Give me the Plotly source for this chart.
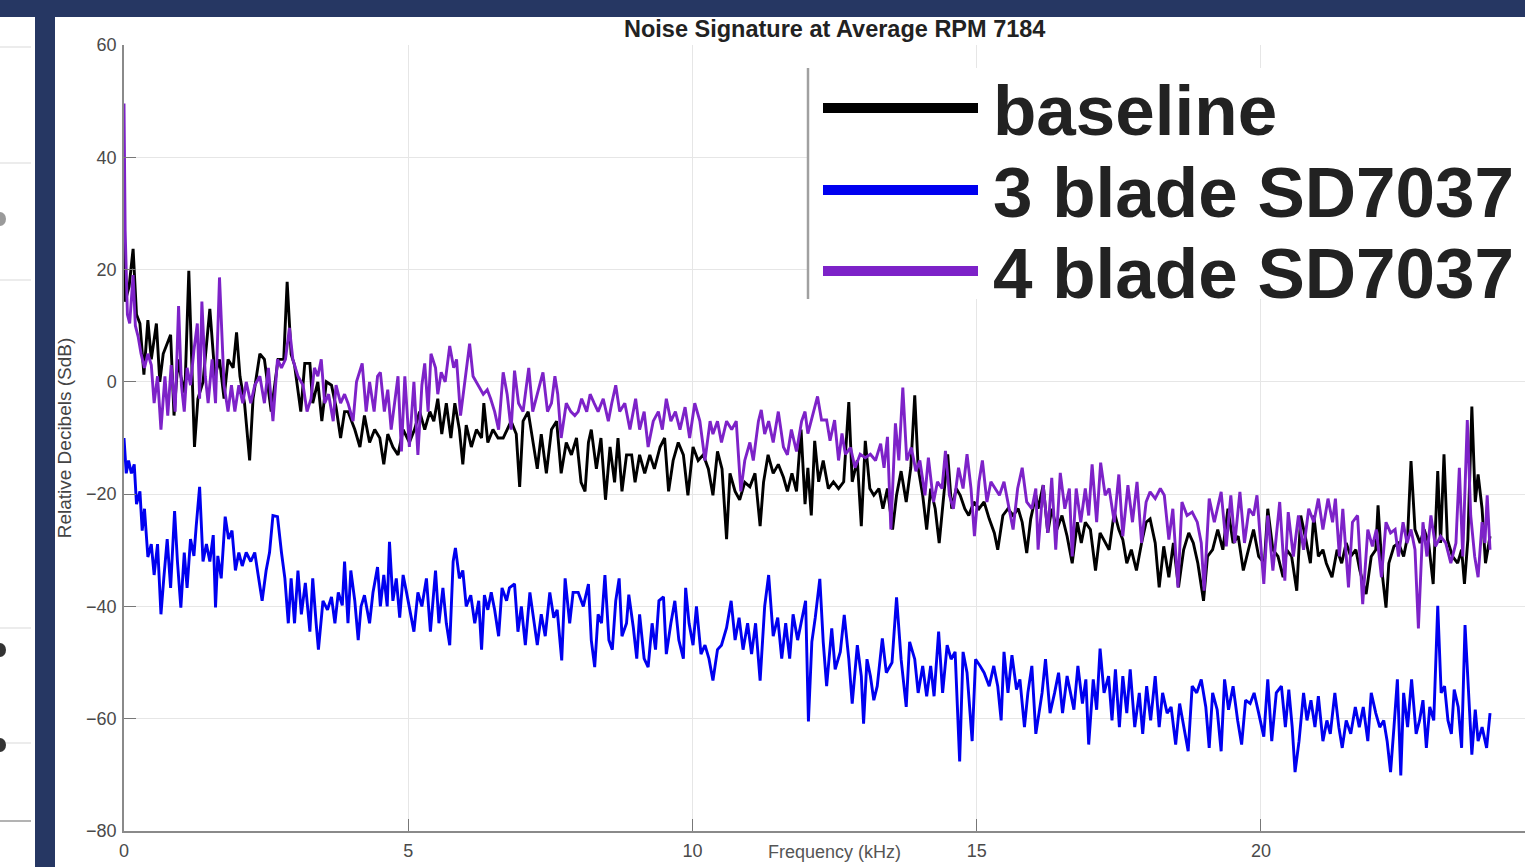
import plotly.graph_objects as go

# ---------------- data ----------------
freq_baseline = [0.0,0.02,0.09,0.16,0.22,0.28,0.33,0.35,0.42,0.48,0.57,0.63,0.69,0.74,0.82,0.88,0.95,1.0,1.07,1.14,1.2,1.24,1.3,1.39,1.51,1.6,1.68,1.76,1.83,1.92,1.98,2.04,2.12,2.21,2.27,2.39,2.47,2.59,2.71,2.81,2.87,2.94,3.0,3.11,3.18,3.27,3.32,3.41,3.48,3.56,3.65,3.73,3.81,3.88,
    3.94,4.06,4.15,4.23,4.32,4.41,4.5,4.57,4.64,4.73,4.82,4.91,5.02,5.11,5.2,5.29,5.38,5.45,5.52,5.59,5.67,5.75,5.82,5.9,5.96,6.02,6.11,6.2,6.29,6.33,6.4,6.49,6.58,6.67,6.81,6.9,6.96,7.02,7.11,7.19,7.27,7.34,7.43,7.52,7.61,7.69,7.78,7.87,7.96,
    8.04,8.11,8.17,8.22,8.31,8.39,8.47,8.55,8.63,8.69,8.76,8.84,8.93,8.99,9.07,9.16,9.25,9.33,9.43,9.51,9.58,9.66,9.75,9.84,9.92,10.01,10.1,10.19,10.28,10.36,10.44,10.52,10.6,10.66,10.75,10.83,10.92,11.01,11.1,11.19,11.25,11.33,11.42,11.51,11.6,11.67,11.75,11.83,11.91,11.98,
    12.03,12.09,12.15,12.22,12.3,12.39,12.48,12.57,12.66,12.75,12.81,12.9,12.97,13.04,13.12,13.19,13.28,13.35,13.43,13.52,13.59,13.67,13.76,13.84,13.91,13.97,14.05,14.12,14.19,14.27,14.34,14.42,14.49,14.56,14.64,14.71,14.79,14.86,14.95,15.04,15.13,15.22,15.31,15.37,15.46,15.55,15.64,15.73,15.8,15.88,15.95,16.04,
    16.08,16.17,16.25,16.32,16.41,16.5,16.59,16.68,16.77,16.84,16.91,17.0,17.09,17.17,17.26,17.33,17.42,17.5,17.57,17.64,17.72,17.81,17.9,17.98,18.05,18.14,18.21,18.29,18.38,18.46,18.55,18.64,18.73,18.81,18.89,18.99,19.06,19.15,19.24,19.33,19.42,19.51,19.6,19.69,19.78,19.87,19.96,20.06,
    20.12,20.21,20.3,20.39,20.45,20.54,20.63,20.7,20.79,20.87,20.93,21.01,21.09,21.15,21.25,21.34,21.42,21.5,21.58,21.67,21.74,21.85,21.94,22.02,22.06,22.14,22.2,22.25,22.34,22.42,22.51,22.58,22.64,22.71,22.8,22.87,22.95,23.03,23.11,23.16,23.22,23.28,23.37,23.46,23.53,23.58,23.64,23.71,23.77,23.82,23.89,23.95,24.03]
db_baseline = [29.2,14.3,17,23.7,12,10.4,4,1.3,11,4,10.4,0,5,6.4,8.4,-6,4,1,-2,19.8,1,-11.6,-3,0,13,1,4,-3,4,2.5,8.8,1,-3.8,-14,-3,5,4,-5.3,4,4,17.8,4.9,3,-5.3,3.3,3.3,-3.8,0,-7,0,-0.6,-4.5,-10,-5.3,
    -5.3,-8.5,-11.6,-6,-10.8,-8.5,-10,-14.7,-9.3,-11.6,-13,-8.5,-10.8,-8.5,-5.3,-8.5,-5.3,-7,-3,-9.3,-3.8,-10,-3.8,-8.5,-14.7,-7.7,-11.6,-8.5,-10,-3.8,-10.8,-8.5,-10,-10,-7,-9.3,-18.7,-7,-5.3,-10.8,-15.5,-9.3,-16.3,-8.5,-7,-16.3,-10.8,-13,-10,
    -17.9,-19.5,-10.8,-8.5,-15.5,-10,-21,-11.6,-17.9,-10,-19.5,-13,-13,-17.9,-13,-16.3,-13,-15.5,-11.6,-10,-19.5,-14,-10.8,-13,-20.2,-11.6,-14,-13,-15.5,-20.2,-12.4,-15.5,-28,-16.3,-19.5,-21,-17.9,-18.7,-16.3,-25.7,-17.9,-13,-16.3,-14.7,-17,-19.5,-16.3,-19.5,-8.5,-21.8,
    -15.3,-23.8,-10.5,-17.8,-14,-19,-17.8,-19,-17.8,-3.6,-17.8,-14,-25.7,-10.5,-19,-20.2,-19,-22.6,-19,-26.3,-20.2,-15.9,-21.4,-15.3,-2.4,-15.3,-20.2,-26.3,-19,-22.6,-28.7,-20.2,-12.9,-22.6,-19,-20.2,-22.6,-23.8,-21.4,-22.6,-21.4,-24.4,-26.9,-29.9,-23.8,-22.6,-23.8,-22.6,-25,-30.5,-24.4,-20.2,
    -22.6,-18.4,-26.9,-22.6,-26.3,-23.8,-27.5,-32.3,-25,-28.7,-25,-26.3,-33.6,-26.9,-28.7,-29.9,-23.2,-26.3,-28.1,-32.3,-29.9,-33.6,-28.7,-25,-24.4,-28.7,-36.6,-29.3,-34.8,-28.7,-36.6,-29.9,-26.9,-28.7,-32.3,-39,-31.1,-29.9,-26.3,-29.9,-22.6,-28.7,-27.5,-33.6,-29.9,-26.3,-31.1,-32.3,
    -22.6,-29.9,-31.1,-34.8,-29.9,-31.1,-37.2,-23.8,-28.1,-32.3,-23.8,-31.1,-29.9,-32.3,-34.8,-29.9,-32.3,-28.7,-31.1,-29.9,-33.6,-37.8,-31.1,-29.9,-22,-34.8,-40.2,-32.3,-29.3,-28.7,-31.1,-27.5,-14.1,-26.3,-28.7,-26.3,-28.7,-36,-15.9,-28.7,-12.9,-28.1,-31.1,-32.3,-29.9,-36,-28.1,-4.4,-21.4,-16.5,-22.6,-32.3,-27.5]

freq_3blade = [0.0,0.04,0.08,0.13,0.18,0.22,0.28,0.32,0.36,0.42,0.48,0.53,0.59,0.65,0.7,0.76,0.82,0.89,0.94,1.0,1.06,1.11,1.17,1.23,1.27,1.33,1.39,1.45,1.51,1.57,1.61,1.65,1.71,1.78,1.84,1.9,1.96,2.02,2.08,2.15,2.23,2.3,2.36,2.43,2.5,2.56,2.62,2.7,2.77,2.83,2.89,2.94,3.0,3.06,3.12,3.19,3.27,3.32,3.38,3.42,3.5,3.58,3.65,3.71,3.77,3.84,3.88,
    3.94,3.99,4.06,4.12,4.17,4.23,4.32,4.38,4.46,4.51,4.57,4.63,4.67,4.73,4.79,4.85,4.91,4.97,5.02,5.1,5.17,5.24,5.32,5.39,5.48,5.54,5.61,5.67,5.73,5.79,5.83,5.9,5.96,6.02,6.1,6.17,6.24,6.29,6.34,6.4,6.46,6.52,6.59,6.65,6.73,6.78,6.87,6.93,6.99,7.06,7.14,7.21,7.27,7.34,7.41,7.49,7.56,7.62,7.7,7.76,7.84,7.9,
    7.99,8.08,8.17,8.22,8.28,8.34,8.4,8.46,8.53,8.59,8.65,8.71,8.76,8.84,8.88,8.96,9.02,9.07,9.15,9.22,9.29,9.35,9.41,9.49,9.54,9.62,9.69,9.76,9.84,9.88,9.94,10.01,10.07,10.15,10.22,10.29,10.36,10.44,10.51,10.6,10.68,10.75,10.82,10.89,10.97,11.04,11.11,11.19,11.27,11.34,11.42,11.5,11.57,11.64,11.71,11.77,11.85,11.91,11.99,12.04,
    12.1,12.16,12.24,12.3,12.36,12.45,12.51,12.6,12.67,12.75,12.81,12.9,12.97,13.01,13.07,13.13,13.19,13.25,13.34,13.41,13.51,13.59,13.67,13.76,13.82,13.91,13.97,14.05,14.12,14.19,14.25,14.33,14.4,14.48,14.55,14.62,14.7,14.76,14.83,14.92,14.98,15.06,15.13,15.22,15.3,15.37,15.43,15.48,15.55,15.62,15.7,15.76,15.84,15.9,15.97,16.04,
    16.15,16.21,16.29,16.37,16.44,16.51,16.59,16.65,16.71,16.78,16.86,16.92,16.97,17.05,17.11,17.17,17.24,17.32,17.38,17.44,17.51,17.57,17.64,17.7,17.78,17.86,17.92,17.99,18.06,18.14,18.21,18.27,18.35,18.42,18.5,18.57,18.64,18.72,18.79,18.87,18.95,19.03,19.09,19.15,19.23,19.3,19.36,19.43,19.51,19.59,19.66,19.73,19.81,19.88,19.96,20.05,
    20.12,20.19,20.27,20.36,20.43,20.49,20.55,20.6,20.67,20.75,20.81,20.88,20.95,21.01,21.09,21.16,21.22,21.3,21.37,21.43,21.5,21.58,21.66,21.73,21.8,21.88,21.94,22.02,22.09,22.16,22.22,22.28,22.34,22.4,22.46,22.51,22.58,22.65,22.73,22.79,22.85,22.91,22.97,23.04,23.11,23.17,23.23,23.29,23.35,23.4,23.47,23.53,23.59,23.65,23.71,23.77,23.82,23.89,23.97,24.03]
db_3blade = [-10,-16.3,-14,-16.3,-14.7,-21.8,-19.5,-26.5,-22.6,-31.2,-28.9,-34.4,-28.9,-41.4,-35,-28,-36.7,-23,-32,-40.2,-30.4,-36.7,-28,-31,-25.7,-18.7,-32,-28.9,-32,-27.3,-40.2,-31,-35,-24,-28,-26.5,-33.6,-30.4,-32.8,-30.4,-32,-30.4,-34.4,-39,-33.6,-30.4,-23.8,-24,-30.4,-35,-43,-35,-43,-33.6,-41.4,-35.8,-44.5,-35,-43,-47.7,-39,-40.6,-38.3,-43,-37.5,-39.8,-32,
    -43,-33.6,-39,-46,-40,-38,-43,-37.5,-33,-40,-34.4,-40,-28.5,-39,-35,-42,-34.4,-37.5,-40,-44.5,-37.5,-40,-35,-44.5,-33.6,-43,-36.7,-43,-46.9,-32,-29.6,-35,-33.6,-40,-38,-43,-39,-47.7,-38,-40.6,-37.5,-40.6,-45.3,-36.7,-39,-36.7,-36,-44.5,-40,-46.9,-37.5,-43,-46.9,-41.4,-45.3,-37.5,-42,-40.6,-49.6,-35,-43,-37.5,
    -37.5,-40,-36,-46,-50.8,-41.4,-43,-34.4,-46,-47.7,-39,-35,-45.3,-43,-37.9,-43.8,-49.3,-41.4,-49.3,-50.8,-43,-47.7,-39,-38.3,-48.5,-43,-39,-46,-49.3,-36.7,-43,-46.9,-40,-48.5,-46.9,-49.3,-53.2,-47.7,-46.9,-43.8,-39,-46,-42,-47.7,-43,-48.5,-43,-53.2,-40,-34.4,-45.3,-42,-49.3,-43,-49.3,-41.4,-46,-43,-39,-60.5,
    -46.3,-42,-35.1,-46.3,-54.2,-43.9,-51.2,-48.1,-41.5,-49.4,-57.3,-46.9,-52.4,-60.9,-49.4,-52.4,-56.7,-54.2,-45.7,-51.8,-50,-38.4,-49.4,-57.9,-46.3,-49.4,-55.4,-50.6,-56,-50.6,-56,-44.5,-55.4,-46.9,-49.4,-48.1,-67.6,-48.1,-51.8,-64,-49.4,-50.6,-51.8,-54.2,-50.6,-54.2,-60.3,-48.1,-55.4,-48.7,-54.8,-53,-61.5,-55.4,-50.6,-62.7,
    -55.4,-49.4,-59,-55.4,-51.8,-59,-52.4,-55.4,-58.4,-50.6,-57.3,-53,-64.6,-53,-58.4,-47.5,-55.4,-52.4,-60.3,-51.2,-61.5,-52.4,-59,-51.2,-61.5,-55.4,-62.7,-54.2,-60.3,-52.4,-61.5,-55.4,-59,-57.9,-64.6,-57.3,-61.5,-65.8,-54.2,-55.4,-53,-57.9,-65.2,-55.4,-58.4,-65.8,-53,-58.4,-54.2,-60.3,-64.6,-56.7,-57.3,-55.4,-59,-63.2,
    -53,-64,-55.4,-54.2,-61.5,-54.8,-61.5,-69.5,-64,-55.4,-60.3,-56.7,-61.5,-56,-64,-60.3,-62.7,-55.4,-61.5,-65.2,-60.3,-62.7,-57.9,-61.5,-57.9,-64,-55.4,-59,-61.5,-60.3,-64,-69.5,-61.5,-53,-70.1,-55.4,-61.5,-53,-62.7,-60.3,-56.7,-65.2,-57.9,-60.3,-39.9,-55.4,-54.2,-60.3,-62.7,-54.8,-57.9,-65.2,-43.3,-55.4,-66.4,-58.4,-64,-61.5,-65.2,-59]

freq_4blade = [0.0,0.02,0.06,0.1,0.16,0.2,0.25,0.3,0.36,0.42,0.48,0.53,0.59,0.65,0.72,0.77,0.83,0.9,0.96,1.01,1.06,1.11,1.17,1.23,1.29,1.33,1.37,1.43,1.48,1.55,1.61,1.68,1.76,1.83,1.89,1.95,2.02,2.09,2.15,2.23,2.3,2.39,2.47,2.54,2.62,2.7,2.77,2.84,2.91,2.97,3.06,3.15,3.22,3.29,3.35,3.41,3.47,3.53,3.6,3.68,3.73,3.81,3.88,
    3.94,4.03,4.09,4.19,4.26,4.32,4.4,4.46,4.51,4.58,4.64,4.7,4.76,4.82,4.88,4.94,5.02,5.1,5.17,5.24,5.29,5.35,5.4,5.48,5.52,5.58,5.65,5.73,5.8,5.85,5.92,6.0,6.08,6.14,6.23,6.32,6.39,6.45,6.52,6.59,6.67,6.74,6.81,6.87,6.94,7.02,7.12,7.19,7.27,7.37,7.45,7.52,7.58,7.63,7.69,7.78,7.86,7.93,
    7.99,8.05,8.14,8.2,8.27,8.34,8.43,8.52,8.58,8.65,8.72,8.81,8.9,9.0,9.07,9.15,9.22,9.31,9.4,9.47,9.54,9.62,9.7,9.78,9.87,9.95,10.04,10.13,10.22,10.31,10.36,10.44,10.51,10.6,10.69,10.77,10.85,10.92,11.01,11.07,11.16,11.21,11.27,11.34,11.42,11.51,11.6,11.67,11.74,11.83,11.92,11.98,
    12.03,12.09,12.2,12.27,12.36,12.42,12.5,12.57,12.63,12.69,12.78,12.86,12.95,13.04,13.13,13.22,13.31,13.37,13.43,13.49,13.57,13.63,13.7,13.77,13.85,13.93,14.0,14.09,14.15,14.24,14.31,14.39,14.45,14.52,14.59,14.68,14.76,14.83,14.9,14.96,15.04,15.1,15.18,15.25,15.32,15.4,15.48,15.55,15.64,15.72,15.8,15.88,15.97,16.04,
    16.08,16.17,16.25,16.32,16.39,16.47,16.55,16.63,16.68,16.75,16.83,16.91,16.97,17.03,17.11,17.18,17.26,17.33,17.42,17.5,17.57,17.66,17.74,17.82,17.9,17.98,18.05,18.14,18.23,18.3,18.38,18.45,18.54,18.61,18.7,18.79,18.88,18.95,19.0,19.09,19.18,19.3,19.39,19.47,19.54,19.63,19.71,19.79,19.87,19.93,19.99,20.05,
    20.12,20.21,20.33,20.42,20.48,20.57,20.66,20.75,20.84,20.93,21.01,21.09,21.18,21.26,21.31,21.38,21.44,21.54,21.61,21.7,21.79,21.88,21.96,22.03,22.12,22.2,22.28,22.36,22.42,22.5,22.57,22.64,22.71,22.77,22.85,22.92,22.99,23.07,23.16,23.25,23.34,23.43,23.49,23.55,23.63,23.69,23.76,23.82,23.89,23.94,23.98,24.03]
db_4blade = [49.6,27,12,10.4,19,10,8,5,2.5,5,3,-3.8,1,-8.5,1,-6,3,-5.3,13.5,-0.6,-5.3,2.5,-0.6,5.6,10.4,-3,14.3,1,-3.8,4,-3.8,18.6,-0.6,-5.3,-0.6,-5.3,-0.6,-3.8,0,-3.8,-0.6,1,-3.8,2.5,-7,4,2.5,4,9.6,4,1,-0.6,-5.3,-3,2.5,1,4,-3.8,-2.2,-7,-0.6,-3.8,-2.2,
    -3.8,-7,0,3.3,-5.3,0,-5.3,1,1.7,-5.3,-1.4,-8.5,-3.8,1,-12.4,1,-11.6,0,-13,-0.6,3.3,-5.3,5,2.5,-2.2,1.7,0,6.4,2.5,4,-6,0,6.8,1,-0.6,-2.2,-1.4,-3,-5.3,-8.5,1.7,-2.2,-8.5,2,-3.8,-5.3,2.5,-5.3,-2.2,1.7,-5.3,-3.8,1,-2.2,-10,-3.8,-5.3,-6,
    -5.3,-3,-5.3,-2.2,-3.8,-5.3,-3,-7,-3.8,-0.6,-5.3,-3.8,-8.5,-3,-8.5,-5.3,-11.6,-7,-5.3,-8.5,-3,-7,-5.3,-8.5,-4.5,-10,-3.8,-7,-14,-7,-9.3,-7,-10.8,-7,-8.5,-7,-19.5,-14,-10.8,-14,-7,-5,-9.3,-7,-10.8,-5.3,-11.6,-13,-8.5,-12.4,-7,-5.3,
    -9.2,-6.8,-2.6,-6.8,-6.8,-10.5,-6.8,-14,-9.2,-12.9,-11.7,-15.3,-12.9,-13.5,-12.9,-14,-11,-15.3,-9.8,-26.3,-7.4,-14,-1,-14,-11.7,-15.9,-14,-20.2,-13.5,-21.4,-17.8,-19,-12.3,-20.2,-22.6,-15.3,-19,-12.9,-19,-27.5,-17.8,-14,-21.4,-17.8,-19,-20.2,-17.8,-21.4,-26.3,-19,-15.3,-21.4,-22.6,-19,
    -29.9,-18.4,-26.9,-17.1,-29.9,-16.2,-22.6,-19,-31.1,-19,-25,-19,-23.8,-14.7,-25,-14.4,-20.2,-19,-25,-16.5,-27.5,-18.4,-25,-17.8,-28.7,-21.4,-19.6,-20.8,-19,-20.2,-28.1,-22.6,-36.6,-21.4,-23.8,-23.2,-25,-28.7,-37.2,-20.8,-25,-19.6,-29.3,-20.2,-28.7,-19.6,-28.7,-22.6,-23.8,-20.2,-27.5,-36,
    -23.8,-33.6,-21.4,-35.4,-23.2,-31.1,-23.8,-29.9,-22.6,-25,-20.8,-26.3,-20.8,-25,-20.8,-31.1,-22.6,-36.6,-25,-23.8,-39.6,-26.3,-29.3,-26.3,-34.8,-25,-26.9,-26.3,-31.1,-25,-28.7,-26.3,-29.9,-43.9,-25,-31.1,-23.8,-29.3,-27.5,-28.7,-32.3,-28.7,-15.3,-31.1,-6.8,-23.8,-31.1,-34.8,-25,-28.7,-20.2,-29.9]

series_names = ["baseline", "3 blade SD7037", "4 blade SD7037"]
series_colors = ["#000000", "#0000f0", "#7d22c8"]
x_ticks = [0, 5, 10, 15, 20]
y_ticks = [-80, -60, -40, -20, 0, 20, 40, 60]
title_text = "Noise Signature at Average RPM 7184"
x_title = "Frequency (kHz)"
y_title = "Relative Decibels (SdB)"

# ---------------- figure geometry ----------------
W, H = 1525, 867
ML, MR, MT, MB = 124, 0, 45, 36
PW, PH = W - ML - MR, H - MT - MB
NAVY = "#263763"
FONT = "Liberation Sans, Arial, sans-serif"


def px(xp):
    return (xp - ML) / PW


def py(yp):
    return (H - MB - yp) / PH


fig = go.Figure()
for fx, fy, name, col in [(freq_baseline, db_baseline, series_names[0], series_colors[0]),
                          (freq_3blade, db_3blade, series_names[1], series_colors[1]),
                          (freq_4blade, db_4blade, series_names[2], series_colors[2])]:
    fig.add_trace(go.Scatter(x=fx, y=fy, mode="lines", name=name,
                             line=dict(color=col, width=2.9), showlegend=False))

axis_common = dict(showline=True, linecolor="#8a8a8a", linewidth=1.5, mirror=False, automargin=False,
                   ticks="inside", ticklen=12, tickwidth=1, tickcolor="#777777",
                   showgrid=True, gridcolor="#e6e6e6", gridwidth=1, zeroline=False,
                   tickfont=dict(family=FONT, size=18, color="#4a4a4a"))

fig.update_xaxes(range=[0, 24.645], tickvals=x_ticks, ticklabelstandoff=3, **axis_common)
fig.update_yaxes(range=[-80, 60], tickvals=y_ticks, ticklabelstandoff=2, **axis_common,
                 title=dict(text=y_title, standoff=9,
                            font=dict(family=FONT, size=19, color="#444444")))

shapes = []
# slide background pieces (navy banner and separator bar)
shapes.append(dict(type="rect", xref="paper", yref="paper", x0=px(0), x1=px(W), y0=py(17), y1=py(0),
                   fillcolor=NAVY, line=dict(width=0), layer="above"))
shapes.append(dict(type="rect", xref="paper", yref="paper", x0=px(35), x1=px(55), y0=py(H), y1=py(0),
                   fillcolor=NAVY, line=dict(width=0), layer="above"))
# faint lines and marks of the neighbouring panel at the far left
for yy, c in [(47, "#e6e6e6"), (163, "#e6e6e6"), (280, "#e6e6e6"), (628, "#e6e6e6"), (743, "#e6e6e6"), (821, "#9a9a9a")]:
    shapes.append(dict(type="line", xref="paper", yref="paper", x0=px(0), x1=px(31), y0=py(yy), y1=py(yy),
                       line=dict(color=c, width=1.5)))
for yc, c in [(219, "#9a9a9a"), (650, "#333333"), (745, "#333333")]:
    shapes.append(dict(type="circle", xref="paper", yref="paper", x0=px(-6), x1=px(6), y0=py(yc + 7), y1=py(yc - 7),
                       fillcolor=c, line=dict(width=0)))
# legend box (white) with its grey left edge
shapes.append(dict(type="rect", xref="paper", yref="paper", x0=px(808), x1=px(W), y0=py(299), y1=py(68),
                   fillcolor="white", line=dict(width=0), layer="above"))
shapes.append(dict(type="line", xref="paper", yref="paper", x0=px(808), x1=px(808), y0=py(299), y1=py(68),
                   line=dict(color="#a0a0a0", width=2.5), layer="above"))
legend_rows = [108, 190, 271]
annotations = []
for row_y, name, col in zip(legend_rows, series_names, series_colors):
    shapes.append(dict(type="line", xref="paper", yref="paper", x0=px(823), x1=px(978), y0=py(row_y), y1=py(row_y),
                       line=dict(color=col, width=10), layer="above"))
    annotations.append(dict(text="<b>" + name + "</b>", xref="paper", yref="paper", x=px(991), y=py(row_y + 2),
                            xanchor="left", yanchor="middle", showarrow=False,
                            font=dict(family=FONT, size=71, color="#222222")))

annotations.append(dict(text="<b>" + title_text + "</b>", xref="paper", yref="paper", x=px(835), y=py(29),
                        xanchor="center", yanchor="middle", showarrow=False,
                        font=dict(family=FONT, size=23.5, color="#222222")))
# x-axis title at the bottom edge
annotations.append(dict(text=x_title, xref="paper", yref="paper", x=px(835), y=py(852),
                        xanchor="center", yanchor="middle", showarrow=False, borderpad=0,
                        font=dict(family=FONT, size=18, color="#555555")))

fig.update_layout(width=W, height=H, margin=dict(l=ML, r=MR, t=MT, b=MB, pad=0),
                  paper_bgcolor="white", plot_bgcolor="white",
                  shapes=shapes, annotations=annotations, showlegend=False)

fig.write_html("out.html", config={"displayModeBar": False},
               post_script="document.body.style.margin='0';document.body.style.overflow='hidden';")
